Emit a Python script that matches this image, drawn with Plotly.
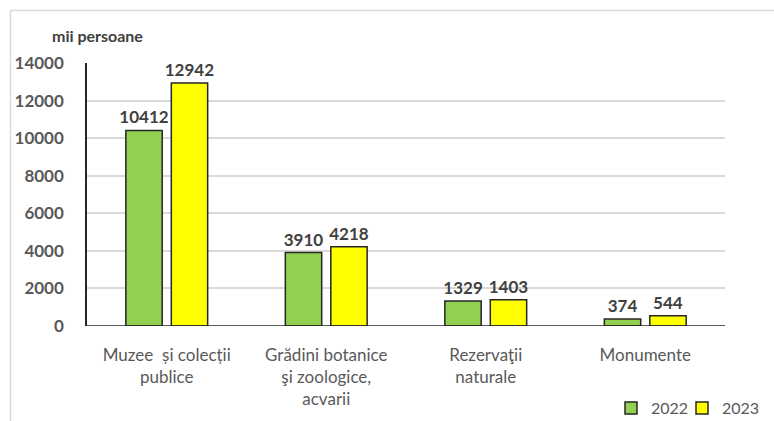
import plotly.graph_objects as go

categories = ["Muzee  și colecții<br>publice", "Grădini botanice<br>şi zoologice,<br>acvarii",
              "Rezervaţii<br>naturale", "Monumente"]
values_2022 = [10412, 3910, 1329, 374]
values_2023 = [12942, 4218, 1403, 544]
tick_vals = [0, 2000, 4000, 6000, 8000, 10000, 12000, 14000]
tick_text = [str(v) for v in tick_vals]

FONT = "Lato"
W, H = 774, 421
L, R, T, B = 87, 725, 63, 326  # plot area pixels

fig = go.Figure()
for name, vals, col, leg in [("2022", values_2022, "#92D050", "legend"),
                             ("2023", values_2023, "#FFFF00", "legend2")]:
    fig.add_trace(go.Bar(
        name=name, x=categories, y=vals, legend=leg,
        marker=dict(color=col, line=dict(color="#262626", width=1.5)),
        text=[str(v) for v in vals], textposition="outside", constraintext="none",
        textfont=dict(family=FONT, size=17, color="#404040", weight="bold"),
        cliponaxis=False,
    ))

def px_x(p):
    return (p - L) / (R - L)

def px_y(p):
    return (B - p) / (B - T)

def legend_at(px_left):
    return dict(orientation="h", xanchor="left", yanchor="middle",
                x=px_x(px_left), y=px_y(408), itemwidth=30,
                font=dict(family=FONT, size=16, color="#595959"),
                bgcolor="rgba(0,0,0,0)")

fig.update_layout(
    width=W, height=H,
    margin=dict(l=L, r=W - R, t=T, b=H - B, pad=0, autoexpand=False),
    paper_bgcolor="white", plot_bgcolor="white",
    barmode="group", bargap=0.43, bargroupgap=0.2,
    font=dict(family=FONT, color="#595959"),
    showlegend=True,
    legend=legend_at(611),
    legend2=legend_at(682),
    xaxis=dict(showgrid=False, showline=False, ticks="",
               tickfont=dict(family=FONT, size=17, color="#595959"),
               ticklabelstandoff=17),
    yaxis=dict(range=[0, 14000], tickvals=tick_vals, ticktext=tick_text, showgrid=True,
               gridcolor="#D9D9D9", gridwidth=1.5, zeroline=False,
               showline=True, linecolor="#262626", linewidth=1.5,
               ticks="", ticklabelstandoff=18,
               tickfont=dict(family=FONT, size=17, color="#595959", weight="bold")),
    shapes=[
        dict(type="line", xref="paper", yref="y", x0=0, x1=1, y0=0, y1=0,
             line=dict(color="#262626", width=1.5)),
        dict(type="rect", xref="paper", yref="paper",
             x0=px_x(10.5), x1=px_x(790), y0=px_y(440), y1=px_y(10.5),
             line=dict(color="#D9D9D9", width=1.5), fillcolor="rgba(0,0,0,0)", layer="below"),
    ],
    annotations=[
        dict(text="<b>mii persoane</b>", xref="paper", yref="paper",
             x=px_x(50), y=px_y(36), xanchor="left", yanchor="middle",
             showarrow=False, font=dict(family=FONT, size=16, color="#404040")),
    ],
)

fig.write_html("out.html", config={"displayModeBar": False},
               post_script="document.body.style.margin='0';document.body.style.overflow='hidden';")
